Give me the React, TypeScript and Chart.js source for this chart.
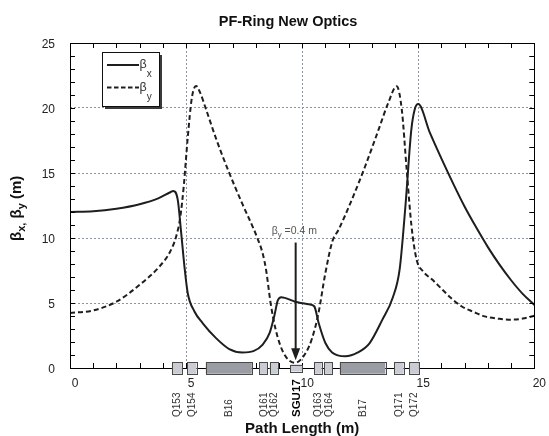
import React, { useEffect, useRef } from 'react';
import { Chart, registerables } from 'chart.js';

Chart.register(...registerables);

// ---- data ----
const TITLE = 'PF-Ring New Optics';
const X_TITLE = 'Path Length (m)';
const X_TICKS = [0, 5, 10, 15, 20];
const Y_TICKS = [0, 5, 10, 15, 20, 25];

const BX_S = [0, 1, 2, 3, 3.8, 4.3, 4.45, 4.64, 4.79, 4.93, 5.07, 5.36, 5.71, 6.29, 6.86, 7.43, 7.9, 8.3, 8.6, 8.8, 8.95, 9.1, 9.7, 10.3, 10.52, 10.71, 11.0, 11.29, 11.86, 12.4, 12.9, 13.45, 13.9, 14.2, 14.45, 14.7, 14.85, 15.0, 15.5, 16.0, 16.5, 17.0, 17.5, 18.0, 18.5, 19.0, 19.5, 20];
const BX = [12.0, 12.05, 12.25, 12.6, 13.05, 13.5, 13.62, 12.95, 10.38, 7.8, 5.77, 4.35, 3.46, 2.3, 1.46, 1.2, 1.3, 1.8, 2.7, 4.0, 5.2, 5.45, 5.1, 4.9, 4.75, 3.46, 1.92, 1.2, 0.9, 1.2, 1.9, 3.7, 5.4, 7.6, 12.5, 18.3, 19.9, 20.3, 18.1, 16.1, 14.2, 12.4, 10.8, 9.3, 7.95, 6.75, 5.7, 4.85];

const BY_S = [0, 1, 2, 3, 3.85, 4.3, 4.57, 4.75, 4.9, 5.07, 5.25, 5.43, 5.6, 5.86, 6.3, 6.86, 7.43, 8.07, 8.3, 8.45, 8.64, 8.86, 9.2, 9.7, 10.15, 10.43, 10.7, 11.0, 11.3, 11.57, 12.14, 12.71, 13.29, 13.71, 14.07, 14.29, 14.5, 14.71, 14.93, 15.2, 15.6, 16.0, 16.4, 16.86, 17.4, 17.86, 18.5, 19.0, 19.5, 20];
const BY = [4.23, 4.43, 5.1, 6.4, 7.8, 8.9, 10.1, 11.6, 14.0, 17.7, 20.8, 21.7, 21.2, 19.9, 17.6, 15.0, 12.6, 10.0, 8.8, 7.5, 5.0, 2.95, 1.15, 0.4, 1.15, 2.3, 4.2, 7.3, 9.74, 10.64, 12.95, 15.5, 18.33, 20.4, 21.67, 19.9, 15.3, 10.9, 8.33, 7.45, 6.8, 6.1, 5.4, 4.75, 4.3, 3.97, 3.78, 3.72, 3.8, 4.02];

const MAG_NAMES = ['Q153', 'Q154', 'B16', 'Q161', 'Q162', 'SGU17', 'Q163', 'Q164', 'B17', 'Q171', 'Q172'];
const MAG_START = [4.39, 5.04, 5.85, 8.16, 8.6, 9.49, 10.51, 10.95, 11.62, 13.96, 14.62];
const MAG_END = [4.82, 5.45, 7.83, 8.5, 8.95, 9.99, 10.84, 11.3, 13.58, 14.37, 15.03];
const MAG_TYPE = ['Q', 'Q', 'B', 'Q', 'Q', 'U', 'Q', 'Q', 'B', 'Q', 'Q'];

const ANNOT_X = 9.72;
const ANNOT_TOP = 9.65;
const ANNOT_TIP = 0.6;
const ANNOT_TEXT_Y = 10.55;
const ANNOT_VALUE = '=0.4 m';

const FONT = '"Liberation Sans", Arial, Helvetica, sans-serif';
const INK = '#1e1e1e';

function drawSubText(ctx: CanvasRenderingContext2D, x: number, y: number, parts: Array<[string, number, boolean, number]>) {
  // parts: [text, size, bold, yOffset]
  let cx = x;
  for (const [t, size, bold, dy] of parts) {
    ctx.font = `${bold ? 'bold ' : ''}${size}px ${FONT}`;
    ctx.fillText(t, cx, y + dy);
    cx += ctx.measureText(t).width;
  }
  return cx;
}

const decorPlugin = {
  id: 'decor',
  afterDraw(chart: any) {
    const ctx: CanvasRenderingContext2D = chart.ctx;
    const xs = chart.scales.x;
    const ys = chart.scales.y;
    const a = chart.chartArea;
    ctx.save();

    // frame
    ctx.strokeStyle = '#000';
    ctx.lineWidth = 1;
    ctx.strokeRect(Math.round(a.left) + 0.5, Math.round(a.top) + 0.5, Math.round(a.right - a.left), Math.round(a.bottom - a.top));

    // inward ticks
    ctx.beginPath();
    for (let v = 0; v <= 20; v += 1) {
      const px = Math.round(xs.getPixelForValue(v)) + 0.5;
      ctx.moveTo(px, a.bottom); ctx.lineTo(px, a.bottom - 5);
      ctx.moveTo(px, a.top); ctx.lineTo(px, a.top + 5);
    }
    for (let v = 0; v <= 25; v += 1) {
      const py = Math.round(ys.getPixelForValue(v)) + 0.5;
      ctx.moveTo(a.left, py); ctx.lineTo(a.left + 5, py);
      ctx.moveTo(a.right, py); ctx.lineTo(a.right - 5, py);
    }
    ctx.stroke();

    // lattice elements
    const y0 = ys.getPixelForValue(0);
    for (let i = 0; i < MAG_NAMES.length; i++) {
      const x1 = xs.getPixelForValue(MAG_START[i]);
      const x2 = xs.getPixelForValue(MAG_END[i]);
      const t = MAG_TYPE[i];
      const h = t === 'U' ? 7 : 11.5;
      ctx.fillStyle = t === 'B' ? '#9a9da3' : '#c9ccd2';
      ctx.strokeStyle = '#4a4a4a';
      ctx.lineWidth = 1;
      ctx.fillRect(x1, y0 - h / 2, x2 - x1, h);
      ctx.strokeRect(Math.round(x1) + 0.5, Math.round(y0 - h / 2) + 0.5, Math.round(x2 - x1), Math.round(h));
      // label
      ctx.save();
      ctx.translate((x1 + x2) / 2 + 0.5, 417);
      ctx.rotate(-Math.PI / 2);
      ctx.fillStyle = t === 'U' ? '#000' : '#333';
      ctx.font = t === 'U' ? `bold 11.5px ${FONT}` : `10px ${FONT}`;
      ctx.textAlign = 'left';
      ctx.textBaseline = 'middle';
      ctx.fillText(MAG_NAMES[i], 0, 0);
      ctx.restore();
    }

    // legend box
    const lx = 102, ly = 52, lw = 57, lh = 54;
    ctx.fillStyle = '#3a3a3a';
    ctx.fillRect(lx + 3, ly + 3, lw, lh);
    ctx.fillStyle = '#fff';
    ctx.fillRect(lx, ly, lw, lh);
    ctx.strokeStyle = '#111';
    ctx.lineWidth = 1;
    ctx.strokeRect(lx + 0.5, ly + 0.5, lw, lh);
    ctx.strokeStyle = INK;
    ctx.lineWidth = 2;
    ctx.beginPath(); ctx.moveTo(107, 65); ctx.lineTo(139, 65); ctx.stroke();
    ctx.setLineDash([4.5, 2.5]);
    ctx.beginPath(); ctx.moveTo(107, 87.5); ctx.lineTo(139, 87.5); ctx.stroke();
    ctx.setLineDash([]);
    ctx.fillStyle = '#333';
    ctx.textAlign = 'left';
    ctx.textBaseline = 'middle';
    drawSubText(ctx, 139.5, 65, [['β', 12.5, false, 0], ['x', 10, false, 9.5]]);
    drawSubText(ctx, 139.5, 88, [['β', 12.5, false, 0], ['y', 10, false, 9.5]]);

    // annotation
    const ax = xs.getPixelForValue(ANNOT_X);
    const aTop = ys.getPixelForValue(ANNOT_TOP);
    const aTip = ys.getPixelForValue(ANNOT_TIP);
    ctx.strokeStyle = INK;
    ctx.fillStyle = INK;
    ctx.lineWidth = 2;
    ctx.beginPath(); ctx.moveTo(ax, aTop); ctx.lineTo(ax, aTip - 10); ctx.stroke();
    ctx.beginPath(); ctx.moveTo(ax, aTip); ctx.lineTo(ax - 4.5, aTip - 12); ctx.lineTo(ax + 4.5, aTip - 12); ctx.closePath(); ctx.fill();
    ctx.fillStyle = '#555';
    ctx.textBaseline = 'middle';
    const ty = ys.getPixelForValue(ANNOT_TEXT_Y);
    drawSubText(ctx, ax - 24, ty, [['β', 10.5, false, 0], ['y', 8, false, 3.5], [' ' + ANNOT_VALUE, 10.5, false, 0]]);

    // title
    ctx.fillStyle = '#111';
    ctx.textAlign = 'center';
    ctx.textBaseline = 'middle';
    ctx.font = `bold 14.5px ${FONT}`;
    ctx.fillText(TITLE, 288, 21.5);

    // x title
    ctx.font = `bold 15px ${FONT}`;
    ctx.fillText(X_TITLE, (a.left + a.right) / 2, 429);

    // y title (rotated, with subscripts)
    ctx.save();
    ctx.translate(16.5, 241);
    ctx.rotate(-Math.PI / 2);
    ctx.textAlign = 'left';
    ctx.textBaseline = 'middle';
    ctx.fillStyle = '#111';
    drawSubText(ctx, 0, 0, [['β', 15, true, 0], ['x,', 11, true, 5], [' β', 15, true, 0], ['y', 11, true, 5], [' (m)', 15, true, 0]]);
    ctx.restore();

    ctx.restore();
  },
};

export default function App() {
  const ref = useRef<HTMLCanvasElement | null>(null);
  useEffect(() => {
    if (!ref.current) return;
    const chart = new Chart(ref.current, {
      type: 'line',
      data: {
        datasets: [
          {
            label: 'βx',
            data: BX_S.map((s, i) => ({ x: s, y: BX[i] })),
            borderColor: INK,
            borderWidth: 2,
            pointRadius: 0,
            cubicInterpolationMode: 'monotone',
            fill: false,
          },
          {
            label: 'βy',
            data: BY_S.map((s, i) => ({ x: s, y: BY[i] })),
            borderColor: INK,
            borderWidth: 2,
            borderDash: [5, 3],
            pointRadius: 0,
            cubicInterpolationMode: 'monotone',
            fill: false,
          },
        ],
      },
      options: {
        animation: false,
        responsive: false,
        devicePixelRatio: 1,
        layout: { padding: { top: 43, right: 12, left: 0, bottom: 0 } },
        plugins: { legend: { display: false }, title: { display: false }, tooltip: { enabled: false } },
        scales: {
          x: {
            type: 'linear',
            min: 0,
            max: 20,
            afterBuildTicks: (s: any) => { s.ticks = X_TICKS.map((v) => ({ value: v })); },
            afterFit: (s: any) => { s.height = 68; },
            ticks: { color: '#222', font: { size: 12, family: FONT }, padding: 8, labelOffset: 5, maxRotation: 0, autoSkip: false },
            grid: { color: '#8e949b', lineWidth: 1, drawTicks: false },
            border: { display: false, dash: [2, 2] },
          },
          y: {
            type: 'linear',
            min: 0,
            max: 25,
            afterBuildTicks: (s: any) => { s.ticks = Y_TICKS.map((v) => ({ value: v })); },
            afterFit: (s: any) => { s.width = 70; },
            ticks: { color: '#222', font: { size: 12, family: FONT }, padding: 15, labelOffset: 1.5 },
            grid: { color: '#8e949b', lineWidth: 1, drawTicks: false },
            border: { display: false, dash: [2, 2] },
          },
        },
      },
      plugins: [decorPlugin],
    } as any);
    return () => chart.destroy();
  }, []);
  return (
    <div style={{ position: 'fixed', left: 0, top: 0, width: 549, height: 436, background: '#fff' }}>
      <canvas ref={ref} width={549} height={436} style={{ width: 549, height: 436 }} />
    </div>
  );
}
